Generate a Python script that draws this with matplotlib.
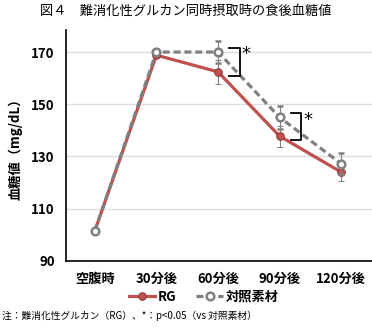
import matplotlib.pyplot as plt
from matplotlib.lines import Line2D

plt.rcParams['font.family'] = ['Noto Sans CJK JP', 'DejaVu Sans']

# 食後血糖値のデータ
labels = ['空腹時', '30分後', '60分後', '90分後', '120分後']
rg = [101.5, 168.8, 162.4, 137.8, 124.0]
rg_err = [0, 1.0, 4.5, 4.0, 3.5]
ctrl = [101.5, 170.0, 170.0, 145.0, 127.2]
ctrl_err = [0, 1.0, 4.2, 4.3, 4.0]

red = '#c0504d'
gray = '#808080'
rg_style = dict(color=red, lw=2.3, marker='o', ms=5.5, mfc=red, mec='#8a3a38', mew=0.7)
ctrl_style = dict(color=gray, lw=2.3, ls=(0, (2.2, 1.2)), marker='o', ms=5.5,
                  mfc='white', mec=gray, mew=1.8)

fig = plt.figure(figsize=(3.72, 3.27), dpi=100)
ax = fig.add_axes([0.177, 0.202, 0.823, 0.706])
x = range(len(labels))

ax.errorbar(x, rg, yerr=rg_err, ecolor=gray, elinewidth=0.8, capsize=2.5,
            zorder=3, **rg_style)
ax.errorbar(x, ctrl, yerr=ctrl_err, ecolor=gray, elinewidth=0.8, capsize=2.5,
            zorder=4, **ctrl_style)

# 有意差のブラケット
for i, (lo, hi) in [(2, (rg[2], ctrl[2])), (3, (rg[3], ctrl[3]))]:
    xb = i + 0.35
    ax.plot([xb - 0.17, xb, xb, xb - 0.17], [lo - 1.5, lo - 1.5, hi + 1.5, hi + 1.5],
            color='black', lw=1.3, zorder=5)
    ax.text(xb + 0.03, hi + 2.5, '*', fontsize=13, ha='left', va='top',
            family='DejaVu Sans')

ax.set_xlim(-0.47, 4.5)
ax.set_ylim(90, 178.4)
ax.set_yticks([90, 110, 130, 150, 170])
ax.set_xticks(list(x))
ax.set_xticklabels(labels, fontweight='bold', fontsize=9.5)
for t in ax.get_yticklabels():
    t.set_fontweight('bold')
    t.set_fontsize(9.5)
ax.tick_params(length=0, pad=8)
ax.grid(axis='y', color='#dddddd', lw=1)
ax.set_axisbelow(True)
for s in ['top', 'right']:
    ax.spines[s].set_visible(False)
ax.spines['left'].set_linewidth(1.2)
ax.spines['bottom'].set_linewidth(1.2)
ax.set_ylabel('血糖値（mg/dL）', fontweight='bold', fontsize=9.5, labelpad=6)

handles = [Line2D([], [], **rg_style), Line2D([], [], **ctrl_style)]
ax.legend(handles, ['RG', '対照素材'], loc='upper center',
          bbox_to_anchor=(0.45, -0.085), ncol=2, frameon=False,
          prop={'weight': 'bold', 'size': 9.5}, handlelength=2.0,
          columnspacing=1.5, handletextpad=0.2, borderpad=0.2)

fig.text(0.5, 0.965, '図４　難消化性グルカン同時摂取時の食後血糖値',
         ha='center', va='center', fontsize=9.5)
fig.text(0.005, 0.035, '注：難消化性グルカン（RG）、*：p<0.05（vs 対照素材）',
         ha='left', va='center', fontsize=7)

fig.savefig('out.png', dpi=100)
